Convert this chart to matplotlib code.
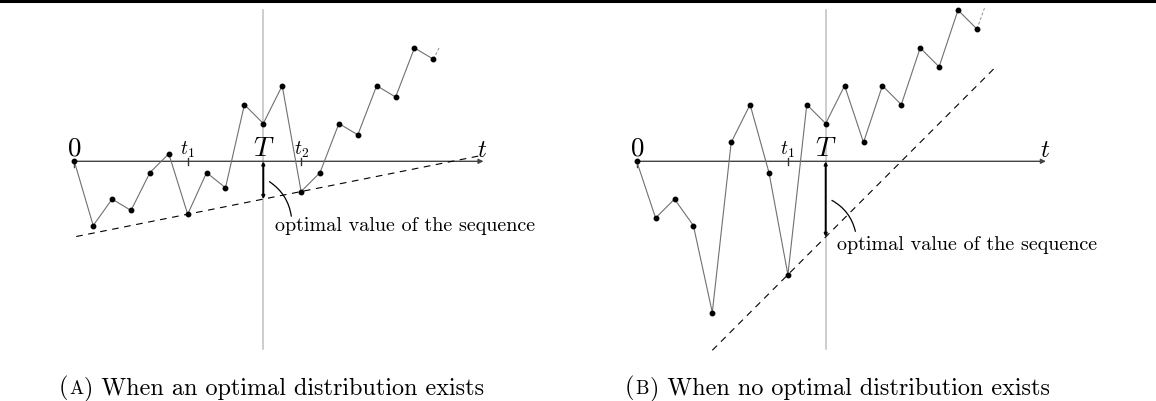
import matplotlib
matplotlib.use("Agg")
import matplotlib.pyplot as plt
from matplotlib.patches import FancyArrowPatch
from matplotlib.lines import Line2D

plt.rcParams['mathtext.fontset'] = 'cm'
plt.rcParams['font.family'] = ['cmr10', 'DejaVu Serif']
plt.rcParams['axes.unicode_minus'] = False

# sequence values (one point per unit of t)
seq_a = [0, -3.4, -2, -2.6, -0.6, 0.4, -2.8, -0.6, -1.4, 3, 2, 4, -1.6, -0.6, 2, 1.4, 4, 3.4, 6, 5.4]
seq_b = [0, -3, -2, -3.4, -8, 1, 3, -0.6, -6, 3, 2, 4, 1, 4, 3, 6, 5, 8, 7]

# dashed lower bounds
bound_a_x = [0.1, 21.5]
bound_a_y = [-3.98, 0.3]
bound_b_x = [4, 19]
bound_b_y = [-10, 5]

# faint continuation of the sequence
tail_a_x = [19, 19.3]
tail_a_y = [5.4, 6.0]
tail_b_x = [18, 18.4]
tail_b_y = [7, 8.1]

T = 10
opt_a = -2
opt_b = -4
ticks_a = {"$t_1$": 6, "$t_2$": 12}
ticks_b = {"$t_1$": 8}
cap_letters = ["A", "B"]
cap_texts = ["When an optimal distribution exists", "When no optimal distribution exists"]

unit = 18.9  # pixels per unit
W, H = 1156, 402
fig = plt.figure(figsize=(W / 100, H / 100), dpi=100)

# top rule
fig.add_artist(Line2D([0, 1], [1 - 1.5 / H, 1 - 1.5 / H], color='black', lw=2.2, transform=fig.transFigure))


def caption(x_px, letter, text):
    y = 1 - 394 / H
    fs = 17.4
    t1 = fig.text(x_px / W, y, "(", fontsize=fs, ha='left', va='baseline')
    fig.canvas.draw()
    r = fig.canvas.get_renderer()
    x = x_px + t1.get_window_extent(r).width + 1
    t2 = fig.text(x / W, y, letter, fontsize=fs * 0.78, ha='left', va='baseline')
    x += t2.get_window_extent(r).width + 1
    fig.text(x / W, y, ") " + text, fontsize=fs, ha='left', va='baseline')


def panel(left_px, origin_px, seq, bx, by, tx, ty, opt, ticks, lab_pos, curve):
    ax = fig.add_axes([left_px / W, (H - 360) / H, 578 / W, 360 / H])
    x0 = (left_px - origin_px) / unit
    ax.set_xlim(x0, x0 + 578 / unit)
    ax.set_ylim((162.3 - 360) / unit, 162.3 / unit)
    ax.axis('off')

    # vertical line at T
    ax.plot([T, T], [-9.95, 8.0], color='#c0c0c0', lw=1.1, zorder=1)
    # time axis
    ax.annotate("", xy=(21.65, 0), xytext=(0, 0),
                arrowprops=dict(arrowstyle='-|>', color='#444444', lw=1.0,
                                mutation_scale=7, shrinkA=0, shrinkB=0), zorder=2)
    ax.plot([0, 0], [0, -0.3], color='#444444', lw=1.0)
    for lab, v in ticks.items():
        ax.plot([v, v], [-0.17, 0.17], color='#333333', lw=1.0)
        ax.text(v, 0.42, lab, fontsize=14, ha='center', va='baseline')
    ax.text(0, 0.38, "$0$", fontsize=19.5, ha='center', va='baseline')
    ax.text(T, 0.33, "$T$", fontsize=20, ha='center', va='baseline')
    ax.text(21.6, 0.3, "$t$", fontsize=18, ha='center', va='baseline')

    # dashed bound
    ax.plot(bx, by, color='black', lw=0.8, ls=(0, (6, 5)), zorder=2)
    # sequence
    ax.plot(range(len(seq)), seq, color='#707070', lw=0.8, zorder=3)
    ax.plot(range(len(seq)), seq, 'o', color='black', ms=3.2, zorder=4)
    ax.plot(tx, ty, color='#909090', lw=0.7, ls=(0, (3, 2)), zorder=3)

    # optimal value arrow
    ax.annotate("", xy=(T, opt), xytext=(T, 0),
                arrowprops=dict(arrowstyle='<|-|>', color='black', lw=1.4,
                                mutation_scale=4, shrinkA=0, shrinkB=0), zorder=5)
    ax.add_patch(FancyArrowPatch(curve[0], curve[1], arrowstyle='-', color='black',
                                 lw=0.9, connectionstyle='arc3,rad=-0.25', zorder=5))
    ax.text(lab_pos[0], lab_pos[1], "optimal value of the sequence", fontsize=14.5,
            ha='left', va='center')
    return ax


panel(0, 74.3, seq_a, bound_a_x, bound_a_y, tail_a_x, tail_a_y, opt_a, ticks_a,
      (10.6, -3.37), ((10.2, -1.0), (11.5, -3.05)))
panel(578, 636.7, seq_b, bound_b_x, bound_b_y, tail_b_x, tail_b_y, opt_b, ticks_b,
      (10.6, -4.4), ((10.2, -2.0), (11.6, -3.85)))
caption(59, cap_letters[0], cap_texts[0])
caption(625, cap_letters[1], cap_texts[1])

fig.savefig("out.png", dpi=100)
